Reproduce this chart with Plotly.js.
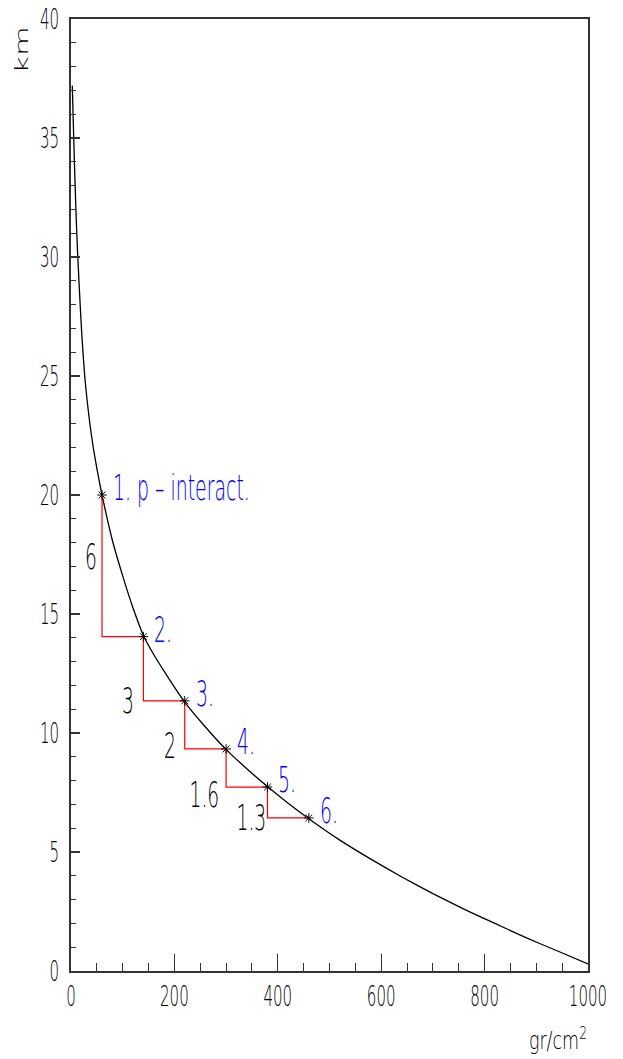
<!DOCTYPE html>
<html>
<head>
<meta charset="utf-8">
<script src="https://cdn.plot.ly/plotly-3.0.1.min.js"></script>
<style>
html,body{margin:0;padding:0;background:#fff;}
#chart{width:623px;height:1059px;}
</style>
</head>
<body>
<div id="chart"></div>
<script>
// Atmospheric depth (gr/cm^2) vs altitude (km)
const curveDepth = [2.5, 5, 6.8, 9.5, 12.5, 17, 21, 26.5, 31, 36.5, 43, 51, 60, 80, 100, 120, 140, 160, 180, 200, 220, 260, 300, 340, 380, 420, 460, 520, 580, 640, 700, 760, 820, 880, 940, 1000];
const curveAlt   = [37.2, 35.2, 33.8, 32.0, 30.3, 28.3, 26.7, 25.0, 24.0, 23.0, 22.0, 21.0, 20.0, 18.1, 16.6, 15.25, 14.1, 13.3, 12.6, 11.93, 11.3, 10.25, 9.3, 8.5, 7.75, 7.05, 6.4, 5.5, 4.7, 3.95, 3.25, 2.6, 2.0, 1.4, 0.85, 0.3];

// Interaction points
const pointDepth = [60, 140, 220, 300, 380, 460];
const pointAlt   = [20.0, 14.05, 11.35, 9.33, 7.73, 6.43];
const pointLabels = ['1. p \u2013 interact.', '2.', '3.', '4.', '5.', '6.'];

// Altitude drops between interactions
const dropLabels = ['6', '3', '2', '1.6', '1.3'];

// Axis ticks
const xTickVals = [0, 200, 400, 600, 800, 1000];
const yTickVals = [0, 5, 10, 15, 20, 25, 30, 35, 40];

const FONT = 'DejaVu Sans, sans-serif';
const W = 200;

const traces = [
  {
    x: curveDepth, y: curveAlt, type: 'scatter', mode: 'lines',
    line: {color: '#000', width: 1.3, shape: 'spline', smoothing: 0.5},
    hoverinfo: 'skip'
  },
  {
    x: pointDepth, y: pointAlt, type: 'scatter', mode: 'lines',
    line: {color: '#ff0000', width: 1.2, shape: 'vh'},
    hoverinfo: 'skip'
  },
  {
    x: pointDepth, y: pointAlt, type: 'scatter', mode: 'markers',
    marker: {symbol: 'asterisk-open', size: 8, color: '#000', line: {color: '#000', width: 1}},
    hoverinfo: 'skip'
  }
];

const annotations = [];
const annScale = [];
pointLabels.forEach((t, i) => {
  annotations.push({
    x: pointDepth[i], y: pointAlt[i], xref: 'x', yref: 'y',
    text: t, showarrow: false, xanchor: 'left', yanchor: 'middle', align: 'left',
    xshift: 9, yshift: 7,
    font: {family: FONT, size: 35, color: '#0000ff', weight: W}
  });
  annScale.push(0.54);
});
const dropYShift = [9, -32, -21, -27, -15];
const dropXShift = [-3, -7, -7, -5, 1];
dropLabels.forEach((t, i) => {
  annotations.push({
    x: pointDepth[i], y: (pointAlt[i] + pointAlt[i + 1]) / 2, xref: 'x', yref: 'y',
    text: t, showarrow: false, xanchor: 'right', yanchor: 'middle', align: 'right',
    xshift: dropXShift[i], yshift: dropYShift[i],
    font: {family: FONT, size: 36, color: '#000', weight: W}
  });
  annScale.push(0.52);
});
// axis titles
annotations.push({
  x: 0, y: 1, xref: 'paper', yref: 'paper', xanchor: 'center', yanchor: 'middle',
  xshift: -50, yshift: -31,
  text: 'km', textangle: -90, showarrow: false,
  font: {family: FONT, size: 18, color: '#000', weight: W}
});
annScale.push(1.7);
annotations.push({
  x: 1, y: 0, xref: 'paper', yref: 'paper', xanchor: 'right', yanchor: 'top', align: 'right',
  yshift: -50, xshift: 1,
  text: 'gr/cm<sup>2</sup>', showarrow: false,
  font: {family: FONT, size: 25, color: '#000', weight: W}
});
annScale.push(0.7);

const axisCommon = {
  showgrid: false, zeroline: false, showline: true, mirror: true,
  linecolor: '#333', linewidth: 2,
  ticks: 'inside', tickcolor: '#333', tickwidth: 1.2,
  ticklabeloverflow: 'allow',
  tickfont: {family: FONT, size: 29, color: '#000', weight: W}
};

const layout = {
  width: 623, height: 1059,
  margin: {l: 71, r: 35, t: 19, b: 88},
  paper_bgcolor: '#fff', plot_bgcolor: '#fff',
  showlegend: false,
  xaxis: Object.assign({}, axisCommon, {
    range: [0, 1000], tickvals: xTickVals, ticklen: 17,
    ticklabelstandoff: -2,
    minor: {dtick: 50, ticklen: 8, ticks: 'inside', tickcolor: '#333', tickwidth: 1}
  }),
  yaxis: Object.assign({}, axisCommon, {
    range: [0, 40], tickvals: yTickVals, ticklen: 9,
    ticklabelstandoff: 4,
    minor: {dtick: 1, ticklen: 5, ticks: 'inside', tickcolor: '#333', tickwidth: 1}
  }),
  annotations: annotations
};

// narrow the lettering horizontally around each text's own anchor point
function squeeze(el, s) {
  const x = parseFloat(el.getAttribute('x')) || 0;
  const tr = el.getAttribute('transform') || '';
  el.setAttribute('transform', tr + ' translate(' + x + ',0) scale(' + s + ',1) translate(' + (-x) + ',0)');
}

Plotly.newPlot('chart', traces, layout, {staticPlot: true, displayModeBar: false}).then(gd => {
  gd.querySelectorAll('.xtick text, .ytick text').forEach(t => squeeze(t, 0.52));
  gd.querySelectorAll('g.annotation').forEach(g => {
    const i = parseInt(g.getAttribute('data-index'), 10);
    const t = g.querySelector('text.annotation-text');
    if (t && annScale[i]) squeeze(t, annScale[i]);
  });
});
</script>
</body>
</html>
